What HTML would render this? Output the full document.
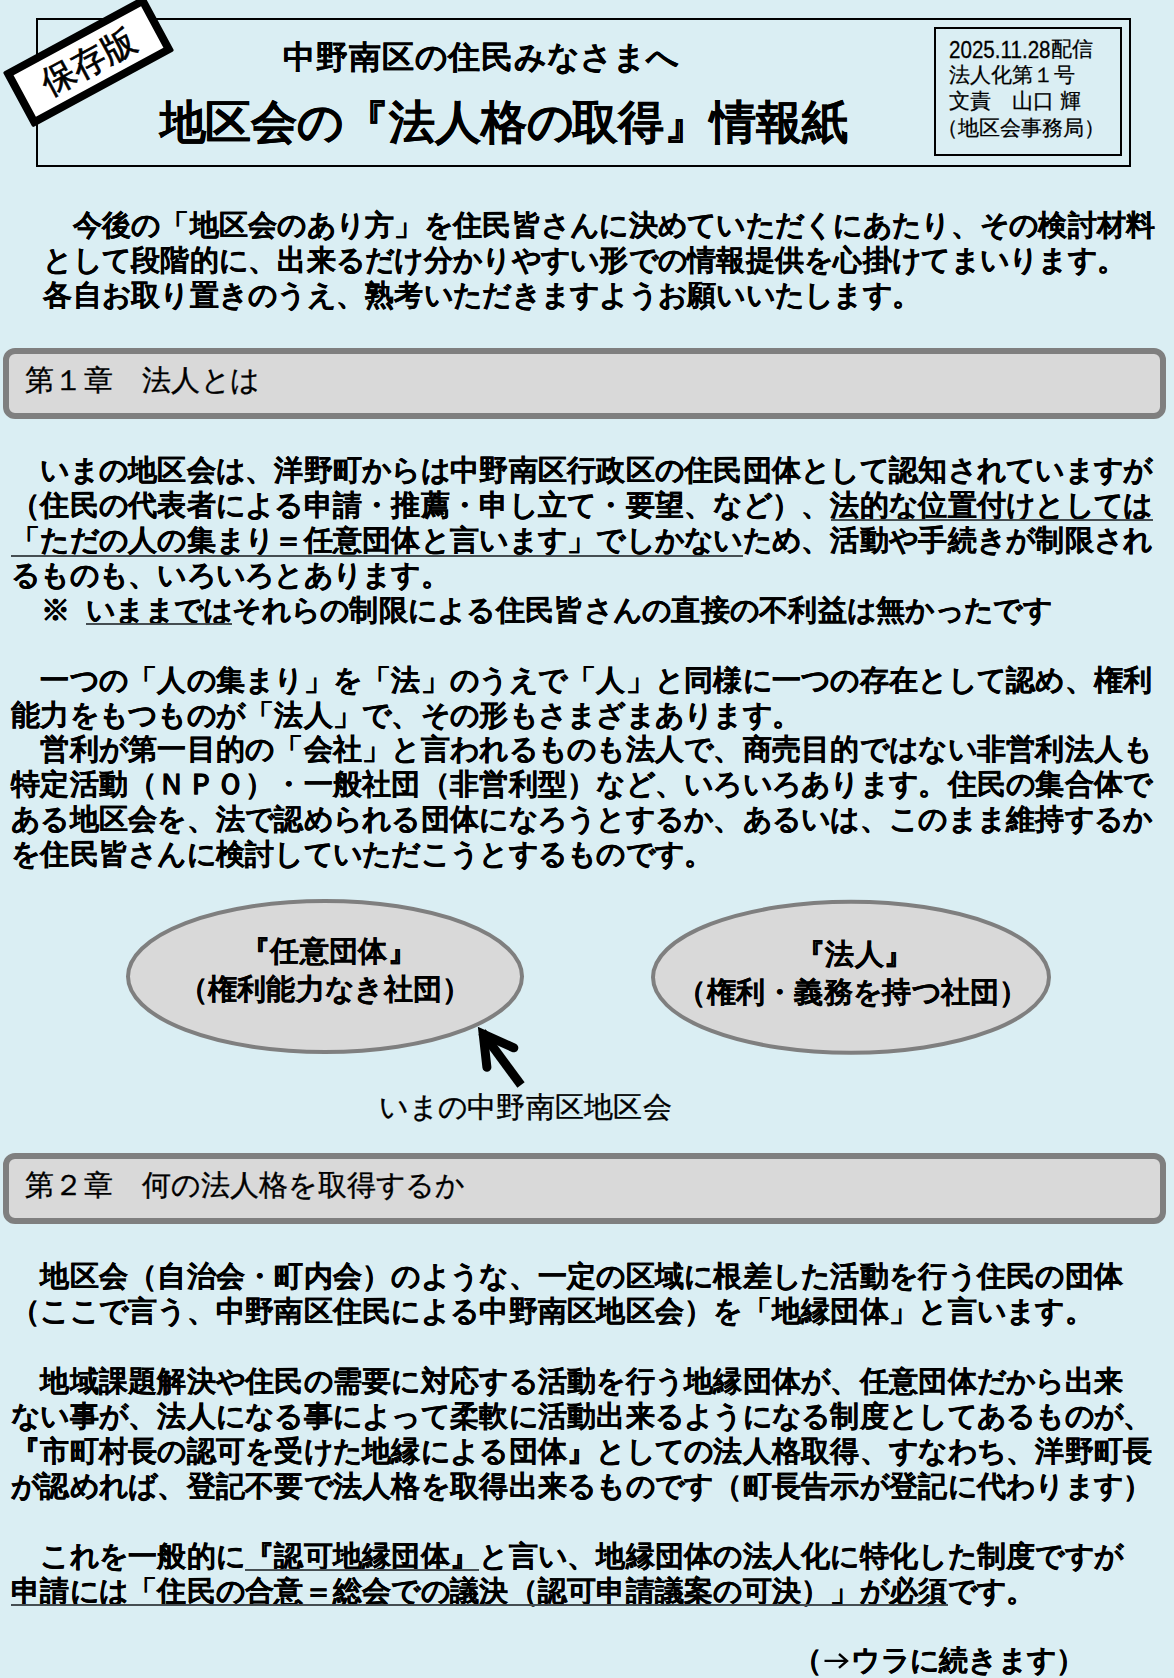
<!DOCTYPE html>
<html lang="ja"><head><meta charset="utf-8">
<style>
html,body{margin:0;padding:0;}
body{width:1174px;height:1678px;overflow:hidden;background:#daeef3;position:relative;font-family:"Liberation Sans",sans-serif;color:#000;}
.t{position:absolute;white-space:pre;font-size:29.27px;line-height:35px;}
.t i{font-style:normal;display:inline-block;width:29.27px;}
.b{font-weight:bold;-webkit-text-stroke:0.15px #000;}
.r{font-weight:normal;-webkit-text-stroke:0.35px #000;}
.ul{position:absolute;height:2px;background:#454e52;}
.hdr{position:absolute;left:36px;top:18px;width:1091px;height:145px;border:2px solid #000;}
.info{position:absolute;left:934px;top:27px;width:184px;height:125px;border:2px solid #000;}
.chap{position:absolute;left:3px;width:1151px;height:59px;border:6px solid #7f7f7f;border-radius:12px;background:#d9d9d9;}
.stamp{position:absolute;left:8.3px;top:30.4px;width:145px;height:47px;border:8px solid #000;background:#fff;transform:rotate(-28.4deg);border-radius:2px;}
.stamp span{position:absolute;left:0;right:0;top:0;text-align:center;font-size:34px;line-height:47px;white-space:pre;-webkit-text-stroke:0.7px #000;}
.it{position:absolute;white-space:pre;font-size:20.6px;line-height:26.5px;-webkit-text-stroke:0.25px #000;}
</style></head><body>
<div class="hdr"></div>
<div class="info"></div>
<div class="it" style="left:949px;top:36px"><span style="display:inline-block;position:relative;top:2px;transform:scaleY(1.15);transform-origin:0 78%">2025.11.28</span>配信</div>
<div class="it" style="left:949px;top:61.5px">法人化第１号</div>
<div class="it" style="left:949px;top:88px">文責　山口 輝</div>
<div class="it" style="left:937px;top:114.5px">（地区会事務局）</div>
<div class="t b" style="left:282.8px;top:37px;font-size:31.6px;line-height:40px"><i style="width:33.0px">中</i><i style="width:33.0px">野</i><i style="width:33.0px">南</i><i style="width:33.0px">区</i><i style="width:33.0px">の</i><i style="width:33.0px">住</i><i style="width:33.0px">民</i><i style="width:33.0px">み</i><i style="width:33.0px">な</i><i style="width:33.0px">さ</i><i style="width:33.0px">ま</i><i style="width:33.0px">へ</i></div>
<div class="t b" style="left:159.5px;top:96.5px;font-size:45.7px;line-height:52px"><i style="width:45.88px">地</i><i style="width:45.88px">区</i><i style="width:45.88px">会</i><i style="width:45.88px">の</i><i style="width:45.88px">『</i><i style="width:45.88px">法</i><i style="width:45.88px">人</i><i style="width:45.88px">格</i><i style="width:45.88px">の</i><i style="width:45.88px">取</i><i style="width:45.88px">得</i><i style="width:45.88px">』</i><i style="width:45.88px">情</i><i style="width:45.88px">報</i><i style="width:45.88px">紙</i></div>
<div class="stamp"><span>保存版</span></div>
<div class="chap" style="top:348px"></div>
<div class="t r" style="left:25px;top:362.9px"><i>第</i><i>１</i><i>章</i><i>　</i><i>法</i><i>人</i><i>と</i><i>は</i></div>
<div class="chap" style="top:1153px"></div>
<div class="t r" style="left:25px;top:1167.8px"><i>第</i><i>２</i><i>章</i><i>　</i><i>何</i><i>の</i><i>法</i><i>人</i><i>格</i><i>を</i><i>取</i><i>得</i><i>す</i><i>る</i><i>か</i></div>
<svg style="position:absolute;left:0;top:0" width="1174" height="1678">
<ellipse cx="325" cy="976.5" rx="197" ry="75.5" fill="#d9d9d9" stroke="#7f7f7f" stroke-width="4"/>
<ellipse cx="851" cy="977.3" rx="198" ry="75.5" fill="#d9d9d9" stroke="#7f7f7f" stroke-width="4"/>
<path d="M824.5,1660.9 H846 M839,1654 L847,1660.9 L839,1667.8" stroke="#000" stroke-width="2.4" fill="none" stroke-linejoin="miter"/>
<path d="M521,1085 L482,1032" stroke="#000" stroke-width="9" fill="none"/>
<path d="M513.8,1047.8 L483.2,1034.1 L486.9,1067.2" stroke="#000" stroke-width="9" fill="none" stroke-linecap="round" stroke-linejoin="miter" stroke-miterlimit="10"/>
</svg>
<div class="t b" style="left:241.2px;top:934.0px"><i>『</i><i>任</i><i>意</i><i>団</i><i>体</i><i>』</i></div>
<div class="t b" style="left:178.7px;top:972.0px"><i>（</i><i>権</i><i>利</i><i>能</i><i>力</i><i>な</i><i>き</i><i>社</i><i>団</i><i>）</i></div>
<div class="t b" style="left:796.0px;top:937.0px"><i>『</i><i>法</i><i>人</i><i>』</i></div>
<div class="t b" style="left:677.4px;top:974.5px"><i>（</i><i>権</i><i>利</i><i>・</i><i>義</i><i>務</i><i>を</i><i>持</i><i>つ</i><i>社</i><i>団</i><i>）</i></div>
<div class="t b" style="left:43.3px;top:208.3px"><i>　</i><i>今</i><i>後</i><i>の</i><i>「</i><i>地</i><i>区</i><i>会</i><i>の</i><i>あ</i><i>り</i><i>方</i><i>」</i><i>を</i><i>住</i><i>民</i><i>皆</i><i>さ</i><i>ん</i><i>に</i><i>決</i><i>め</i><i>て</i><i>い</i><i>た</i><i>だ</i><i>く</i><i>に</i><i>あ</i><i>た</i><i>り</i><i>、</i><i>そ</i><i>の</i><i>検</i><i>討</i><i>材</i><i>料</i></div>
<div class="t b" style="left:43.3px;top:243.2px"><i>と</i><i>し</i><i>て</i><i>段</i><i>階</i><i>的</i><i>に</i><i>、</i><i>出</i><i>来</i><i>る</i><i>だ</i><i>け</i><i>分</i><i>か</i><i>り</i><i>や</i><i>す</i><i>い</i><i>形</i><i>で</i><i>の</i><i>情</i><i>報</i><i>提</i><i>供</i><i>を</i><i>心</i><i>掛</i><i>け</i><i>て</i><i>ま</i><i>い</i><i>り</i><i>ま</i><i>す</i><i>。</i></div>
<div class="t b" style="left:43.3px;top:278.1px"><i>各</i><i>自</i><i>お</i><i>取</i><i>り</i><i>置</i><i>き</i><i>の</i><i>う</i><i>え</i><i>、</i><i>熟</i><i>考</i><i>い</i><i>た</i><i>だ</i><i>き</i><i>ま</i><i>す</i><i>よ</i><i>う</i><i>お</i><i>願</i><i>い</i><i>い</i><i>た</i><i>し</i><i>ま</i><i>す</i><i>。</i></div>
<div class="t b" style="left:11.0px;top:453.2px"><i>　</i><i>い</i><i>ま</i><i>の</i><i>地</i><i>区</i><i>会</i><i>は</i><i>、</i><i>洋</i><i>野</i><i>町</i><i>か</i><i>ら</i><i>は</i><i>中</i><i>野</i><i>南</i><i>区</i><i>行</i><i>政</i><i>区</i><i>の</i><i>住</i><i>民</i><i>団</i><i>体</i><i>と</i><i>し</i><i>て</i><i>認</i><i>知</i><i>さ</i><i>れ</i><i>て</i><i>い</i><i>ま</i><i>す</i><i>が</i></div>
<div class="t b" style="left:11.0px;top:488.1px"><i>（</i><i>住</i><i>民</i><i>の</i><i>代</i><i>表</i><i>者</i><i>に</i><i>よ</i><i>る</i><i>申</i><i>請</i><i>・</i><i>推</i><i>薦</i><i>・</i><i>申</i><i>し</i><i>立</i><i>て</i><i>・</i><i>要</i><i>望</i><i>、</i><i>な</i><i>ど</i><i>）</i><i>、</i><i>法</i><i>的</i><i>な</i><i>位</i><i>置</i><i>付</i><i>け</i><i>と</i><i>し</i><i>て</i><i>は</i></div>
<div class="ul" style="left:830.6px;top:518.5px;width:322.0px"></div>
<div class="t b" style="left:11.0px;top:523.0px"><i>「</i><i>た</i><i>だ</i><i>の</i><i>人</i><i>の</i><i>集</i><i>ま</i><i>り</i><i>＝</i><i>任</i><i>意</i><i>団</i><i>体</i><i>と</i><i>言</i><i>い</i><i>ま</i><i>す</i><i>」</i><i>で</i><i>し</i><i>か</i><i>な</i><i>い</i><i>た</i><i>め</i><i>、</i><i>活</i><i>動</i><i>や</i><i>手</i><i>続</i><i>き</i><i>が</i><i>制</i><i>限</i><i>さ</i><i>れ</i></div>
<div class="ul" style="left:11.0px;top:554.6px;width:731.8px"></div>
<div class="t b" style="left:11.0px;top:557.9px"><i>る</i><i>も</i><i>の</i><i>も</i><i>、</i><i>い</i><i>ろ</i><i>い</i><i>ろ</i><i>と</i><i>あ</i><i>り</i><i>ま</i><i>す</i><i>。</i></div>
<div class="t b" style="left:41.0px;top:592.8px"><i>※</i></div>
<div class="t b" style="left:86.0px;top:592.8px"><i>い</i><i>ま</i><i>ま</i><i>で</i><i>は</i><i>そ</i><i>れ</i><i>ら</i><i>の</i><i>制</i><i>限</i><i>に</i><i>よ</i><i>る</i><i>住</i><i>民</i><i>皆</i><i>さ</i><i>ん</i><i>の</i><i>直</i><i>接</i><i>の</i><i>不</i><i>利</i><i>益</i><i>は</i><i>無</i><i>か</i><i>っ</i><i>た</i><i>で</i><i>す</i></div>
<div class="ul" style="left:86.0px;top:623.2px;width:146.3px"></div>
<div class="t b" style="left:11.0px;top:662.6px"><i>　</i><i>一</i><i>つ</i><i>の</i><i>「</i><i>人</i><i>の</i><i>集</i><i>ま</i><i>り</i><i>」</i><i>を</i><i>「</i><i>法</i><i>」</i><i>の</i><i>う</i><i>え</i><i>で</i><i>「</i><i>人</i><i>」</i><i>と</i><i>同</i><i>様</i><i>に</i><i>一</i><i>つ</i><i>の</i><i>存</i><i>在</i><i>と</i><i>し</i><i>て</i><i>認</i><i>め</i><i>、</i><i>権</i><i>利</i></div>
<div class="t b" style="left:11.0px;top:697.5px"><i>能</i><i>力</i><i>を</i><i>も</i><i>つ</i><i>も</i><i>の</i><i>が</i><i>「</i><i>法</i><i>人</i><i>」</i><i>で</i><i>、</i><i>そ</i><i>の</i><i>形</i><i>も</i><i>さ</i><i>ま</i><i>ざ</i><i>ま</i><i>あ</i><i>り</i><i>ま</i><i>す</i><i>。</i></div>
<div class="t b" style="left:11.0px;top:732.4px"><i>　</i><i>営</i><i>利</i><i>が</i><i>第</i><i>一</i><i>目</i><i>的</i><i>の</i><i>「</i><i>会</i><i>社</i><i>」</i><i>と</i><i>言</i><i>わ</i><i>れ</i><i>る</i><i>も</i><i>の</i><i>も</i><i>法</i><i>人</i><i>で</i><i>、</i><i>商</i><i>売</i><i>目</i><i>的</i><i>で</i><i>は</i><i>な</i><i>い</i><i>非</i><i>営</i><i>利</i><i>法</i><i>人</i><i>も</i></div>
<div class="t b" style="left:11.0px;top:767.3px"><i>特</i><i>定</i><i>活</i><i>動</i><i>（</i><i>Ｎ</i><i>Ｐ</i><i>Ｏ</i><i>）</i><i>・</i><i>一</i><i>般</i><i>社</i><i>団</i><i>（</i><i>非</i><i>営</i><i>利</i><i>型</i><i>）</i><i>な</i><i>ど</i><i>、</i><i>い</i><i>ろ</i><i>い</i><i>ろ</i><i>あ</i><i>り</i><i>ま</i><i>す</i><i>。</i><i>住</i><i>民</i><i>の</i><i>集</i><i>合</i><i>体</i><i>で</i></div>
<div class="t b" style="left:11.0px;top:802.2px"><i>あ</i><i>る</i><i>地</i><i>区</i><i>会</i><i>を</i><i>、</i><i>法</i><i>で</i><i>認</i><i>め</i><i>ら</i><i>れ</i><i>る</i><i>団</i><i>体</i><i>に</i><i>な</i><i>ろ</i><i>う</i><i>と</i><i>す</i><i>る</i><i>か</i><i>、</i><i>あ</i><i>る</i><i>い</i><i>は</i><i>、</i><i>こ</i><i>の</i><i>ま</i><i>ま</i><i>維</i><i>持</i><i>す</i><i>る</i><i>か</i></div>
<div class="t b" style="left:11.0px;top:837.1px"><i>を</i><i>住</i><i>民</i><i>皆</i><i>さ</i><i>ん</i><i>に</i><i>検</i><i>討</i><i>し</i><i>て</i><i>い</i><i>た</i><i>だ</i><i>こ</i><i>う</i><i>と</i><i>す</i><i>る</i><i>も</i><i>の</i><i>で</i><i>す</i><i>。</i></div>
<div class="t b" style="left:11.0px;top:1259.4px"><i>　</i><i>地</i><i>区</i><i>会</i><i>（</i><i>自</i><i>治</i><i>会</i><i>・</i><i>町</i><i>内</i><i>会</i><i>）</i><i>の</i><i>よ</i><i>う</i><i>な</i><i>、</i><i>一</i><i>定</i><i>の</i><i>区</i><i>域</i><i>に</i><i>根</i><i>差</i><i>し</i><i>た</i><i>活</i><i>動</i><i>を</i><i>行</i><i>う</i><i>住</i><i>民</i><i>の</i><i>団</i><i>体</i></div>
<div class="t b" style="left:11.0px;top:1294.3px"><i>（</i><i>こ</i><i>こ</i><i>で</i><i>言</i><i>う</i><i>、</i><i>中</i><i>野</i><i>南</i><i>区</i><i>住</i><i>民</i><i>に</i><i>よ</i><i>る</i><i>中</i><i>野</i><i>南</i><i>区</i><i>地</i><i>区</i><i>会</i><i>）</i><i>を</i><i>「</i><i>地</i><i>縁</i><i>団</i><i>体</i><i>」</i><i>と</i><i>言</i><i>い</i><i>ま</i><i>す</i><i>。</i></div>
<div class="t b" style="left:11.0px;top:1364.1px"><i>　</i><i>地</i><i>域</i><i>課</i><i>題</i><i>解</i><i>決</i><i>や</i><i>住</i><i>民</i><i>の</i><i>需</i><i>要</i><i>に</i><i>対</i><i>応</i><i>す</i><i>る</i><i>活</i><i>動</i><i>を</i><i>行</i><i>う</i><i>地</i><i>縁</i><i>団</i><i>体</i><i>が</i><i>、</i><i>任</i><i>意</i><i>団</i><i>体</i><i>だ</i><i>か</i><i>ら</i><i>出</i><i>来</i></div>
<div class="t b" style="left:11.0px;top:1399.0px"><i>な</i><i>い</i><i>事</i><i>が</i><i>、</i><i>法</i><i>人</i><i>に</i><i>な</i><i>る</i><i>事</i><i>に</i><i>よ</i><i>っ</i><i>て</i><i>柔</i><i>軟</i><i>に</i><i>活</i><i>動</i><i>出</i><i>来</i><i>る</i><i>よ</i><i>う</i><i>に</i><i>な</i><i>る</i><i>制</i><i>度</i><i>と</i><i>し</i><i>て</i><i>あ</i><i>る</i><i>も</i><i>の</i><i>が</i><i>、</i></div>
<div class="t b" style="left:11.0px;top:1433.9px"><i>『</i><i>市</i><i>町</i><i>村</i><i>長</i><i>の</i><i>認</i><i>可</i><i>を</i><i>受</i><i>け</i><i>た</i><i>地</i><i>縁</i><i>に</i><i>よ</i><i>る</i><i>団</i><i>体</i><i>』</i><i>と</i><i>し</i><i>て</i><i>の</i><i>法</i><i>人</i><i>格</i><i>取</i><i>得</i><i>、</i><i>す</i><i>な</i><i>わ</i><i>ち</i><i>、</i><i>洋</i><i>野</i><i>町</i><i>長</i></div>
<div class="t b" style="left:11.0px;top:1468.8px"><i>が</i><i>認</i><i>め</i><i>れ</i><i>ば</i><i>、</i><i>登</i><i>記</i><i>不</i><i>要</i><i>で</i><i>法</i><i>人</i><i>格</i><i>を</i><i>取</i><i>得</i><i>出</i><i>来</i><i>る</i><i>も</i><i>の</i><i>で</i><i>す</i><i>（</i><i>町</i><i>長</i><i>告</i><i>示</i><i>が</i><i>登</i><i>記</i><i>に</i><i>代</i><i>わ</i><i>り</i><i>ま</i><i>す</i><i>）</i></div>
<div class="t b" style="left:11.0px;top:1538.6px"><i>　</i><i>こ</i><i>れ</i><i>を</i><i>一</i><i>般</i><i>的</i><i>に</i><i>『</i><i>認</i><i>可</i><i>地</i><i>縁</i><i>団</i><i>体</i><i>』</i><i>と</i><i>言</i><i>い</i><i>、</i><i>地</i><i>縁</i><i>団</i><i>体</i><i>の</i><i>法</i><i>人</i><i>化</i><i>に</i><i>特</i><i>化</i><i>し</i><i>た</i><i>制</i><i>度</i><i>で</i><i>す</i><i>が</i></div>
<div class="ul" style="left:245.2px;top:1569.0px;width:234.2px"></div>
<div class="t b" style="left:11.0px;top:1573.5px"><i>申</i><i>請</i><i>に</i><i>は</i><i>「</i><i>住</i><i>民</i><i>の</i><i>合</i><i>意</i><i>＝</i><i>総</i><i>会</i><i>で</i><i>の</i><i>議</i><i>決</i><i>（</i><i>認</i><i>可</i><i>申</i><i>請</i><i>議</i><i>案</i><i>の</i><i>可</i><i>決</i><i>）</i><i>」</i><i>が</i><i>必</i><i>須</i><i>で</i><i>す</i><i>。</i></div>
<div class="ul" style="left:11.0px;top:1603.9px;width:936.6px"></div>
<div class="t b" style="left:792.8px;top:1643.3px"><i>（</i><i>　</i><i>ウ</i><i>ラ</i><i>に</i><i>続</i><i>き</i><i>ま</i><i>す</i><i>）</i></div>
<div class="t r" style="left:379.3px;top:1089.5px"><i>い</i><i>ま</i><i>の</i><i>中</i><i>野</i><i>南</i><i>区</i><i>地</i><i>区</i><i>会</i></div>
</body></html>
